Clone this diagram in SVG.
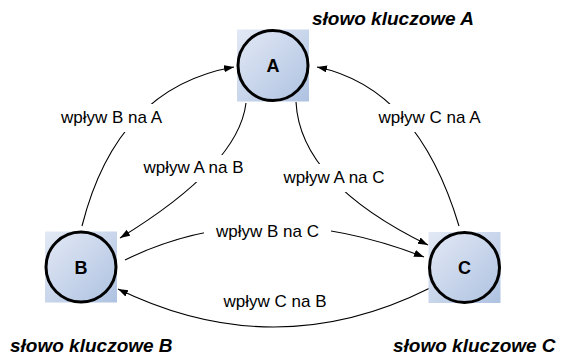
<svg xmlns="http://www.w3.org/2000/svg" width="563" height="357" viewBox="0 0 563 357">
  <style>
    .sq { fill: url(#g); }
    .ring { fill: none; stroke: #000; stroke-width: 3; }
    .nl { font-family: "Liberation Sans", Arial, sans-serif; font-weight: bold; font-size: 18px; text-anchor: middle; fill: #000; }
    .kw { font-family: "Liberation Sans", Arial, sans-serif; font-weight: bold; font-style: italic; font-size: 19px; fill: #000; }
    .el { font-family: "Liberation Sans", Arial, sans-serif; font-size: 17px; text-anchor: middle; fill: #000; }
    .bg { fill: #fff; }
    .edge { fill: none; stroke: #000; stroke-width: 1.1; marker-end: url(#arr); }
  </style>
  <defs>
    <linearGradient id="g" x1="0" y1="0" x2="1" y2="1">
      <stop offset="0" stop-color="#e3e9f5"/>
      <stop offset="1" stop-color="#aec2e1"/>
    </linearGradient>
    <marker id="arr" markerUnits="userSpaceOnUse" markerWidth="11" markerHeight="8" refX="10" refY="3.5" orient="auto">
      <path d="M0,0 L10,3.5 L0,7 z" fill="#000"/>
    </marker>
  </defs>
  <rect width="563" height="357" fill="#fff"/>

  <g id="connectors">
    <path id="e-BA" class="edge" d="M82,226 Q117,87.5 234,67"/>
    <path id="e-AB" class="edge" d="M246,103 Q238.5,165.5 120,238"/>
    <path id="e-AC" class="edge" d="M296,102 Q300,182.5 428,245"/>
    <path id="e-CA" class="edge" d="M459,226 Q417.5,87.5 317,67"/>
    <path id="e-BC" class="edge" d="M125,260 Q261,193.5 424,257"/>
    <path id="e-CB" class="edge" d="M430,288 Q275.5,365.5 118,289"/>
  </g>

  <g id="edge-labels">
    <rect class="bg" x="48" y="104" width="127" height="28"/>
    <text class="el" x="111.5" y="123">wpływ B na A</text>
    <rect class="bg" x="131" y="155" width="125" height="27"/>
    <text class="el" x="193.5" y="173">wpływ A na B</text>
    <rect class="bg" x="271" y="164" width="126" height="28"/>
    <text class="el" x="334" y="183">wpływ A na C</text>
    <rect class="bg" x="365" y="104" width="129" height="28"/>
    <text class="el" x="429.5" y="123">wpływ C na A</text>
    <rect class="bg" x="204" y="218" width="127" height="26"/>
    <text class="el" x="267.5" y="237">wpływ B na C</text>
    <text class="el" x="275" y="307">wpływ C na B</text>
  </g>

  <g id="node-A">
    <rect class="sq" x="237" y="29.5" width="72" height="72"/>
    <circle class="ring" cx="273" cy="65.5" r="35"/>
    <text class="nl" x="273" y="72">A</text>
  </g>
  <g id="node-B">
    <rect class="sq" x="45" y="231.5" width="72" height="71"/>
    <circle class="ring" cx="81" cy="267" r="35"/>
    <text class="nl" x="81" y="273.5">B</text>
  </g>
  <g id="node-C">
    <rect class="sq" x="428.5" y="232" width="72" height="71"/>
    <circle class="ring" cx="464.5" cy="267.5" r="35"/>
    <text class="nl" x="464.5" y="274">C</text>
  </g>

  <g id="keywords">
    <text class="kw" x="312" y="25">słowo kluczowe A</text>
    <text class="kw" x="10" y="352">słowo kluczowe B</text>
    <text class="kw" x="393" y="352">słowo kluczowe C</text>
  </g>
</svg>
